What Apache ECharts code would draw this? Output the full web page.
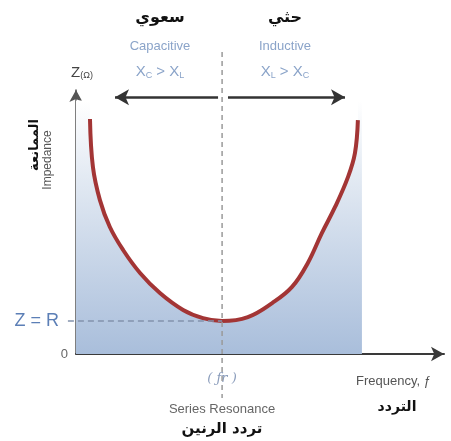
<!DOCTYPE html>
<html>
<head>
<meta charset="utf-8">
<script src="https://cdn.jsdelivr.net/npm/echarts@6/dist/echarts.min.js"></script>
<style>
  html, body { margin: 0; padding: 0; background: #fff; }
  #chart { width: 451px; height: 441px; }
</style>
</head>
<body>
<div id="chart"></div>
<script>
// Impedance of a series RLC circuit versus frequency
const freq = [3.8, 4.6, 6.5, 9.2, 12.8, 17.4, 22.8, 29.1, 34.5, 39.7, 46.7, 53.3, 58.7, 63.0, 66.8, 70.4, 73.9, 75.8, 76.6];
const impedance = [89, 70.8, 58.3, 48.1, 39.4, 30.7, 23.1, 16.7, 13.6, 12.5, 14.0, 19.3, 25.4, 34.5, 45.8, 55.7, 67.0, 76.1, 88.6];

// resonance point and resistance level
const resonanceFreq = 39.7;
const resistance = 12.5;

// shaded region behind the curve
const bandX = [0, 77.7];
const bandTop = 96;

// region arrows (capacitive to the left, inductive to the right)
const arrowLevel = 97.3;
const capacitiveArrow = [38.6, 10.6];
const inductiveArrow = [41.3, 73.1];

// extent of the resonance guide line and start of the Z = R guide
const guideRange = [-16.7, 114.4];
const zrStart = -2.2;

const chart = echarts.init(document.getElementById('chart'));

const AR = '"DejaVu Sans", sans-serif';
const LAT = 'Arial, "Liberation Sans", sans-serif';
const blueText = '#8ba4c9';

chart.setOption({
  animation: false,
  grid: { left: 76, right: 7, top: 90, bottom: 87 },
  xAxis: {
    type: 'value', min: 0, max: 100,
    axisLine: { lineStyle: { color: '#3a3a3a', width: 2 }, symbol: ['none', 'arrow'], symbolSize: [11, 13] },
    axisTick: { show: false }, axisLabel: { show: false }, splitLine: { show: false }
  },
  yAxis: {
    type: 'value', min: 0, max: 100, interval: 12.5,
    axisLine: { show: true, lineStyle: { color: '#555', width: 1.5 }, symbol: ['none', 'arrow'], symbolSize: [10, 12] },
    axisTick: { show: false }, splitLine: { show: false },
    axisLabel: {
      margin: 8,
      formatter: v => v === 0 ? '{z|0}' : (v === resistance ? '{r|Z = R}' : ''),
      rich: {
        z: { color: '#666', fontSize: 13, fontFamily: LAT },
        r: { color: '#5c7fb6', fontSize: 18, fontFamily: LAT, padding: [0, 9, 0, 0] }
      }
    }
  },
  series: [
    {
      type: 'line', z: 1, silent: true, symbol: 'none',
      data: [[bandX[0], bandTop], [bandX[1], bandTop]],
      lineStyle: { width: 0 },
      areaStyle: {
        opacity: 1,
        color: new echarts.graphic.LinearGradient(0, 0, 0, 1, [
          { offset: 0, color: '#ffffff' },
          { offset: 0.3, color: '#e3eaf3' },
          { offset: 1, color: '#a9bedb' }
        ])
      }
    },
    {
      type: 'line', z: 3, smooth: 0.4, symbol: 'none',
      data: freq.map((f, i) => [f, impedance[i]]),
      lineStyle: { color: '#a33535', width: 4 },
      areaStyle: { origin: 'end', color: '#ffffff', opacity: 1 }
    },
    {
      type: 'line', z: 4, clip: false, symbol: 'none', data: [],
      markLine: {
        silent: true, symbol: ['none', 'arrow'], symbolSize: [12, 14],
        label: { show: false },
        lineStyle: { color: '#333', width: 2.5, type: 'solid' },
        data: [
          [{ coord: [capacitiveArrow[0], arrowLevel] }, { coord: [capacitiveArrow[1], arrowLevel] }],
          [{ coord: [inductiveArrow[0], arrowLevel] }, { coord: [inductiveArrow[1], arrowLevel] }]
        ]
      }
    }
  ]
});

// guide lines reach past the plotting area, so place them through the axis scales
const px = (x, y) => chart.convertToPixel({ gridIndex: 0 }, [x, y]);
const vTop = px(resonanceFreq, guideRange[1]);
const vBot = px(resonanceFreq, guideRange[0]);
const hA = px(zrStart, resistance);
const hB = px(resonanceFreq, resistance);

const subRich = (c) => ({
  b: { fontSize: 15, fontFamily: LAT, fill: c },
  s: { fontSize: 9, fontFamily: LAT, fill: c, padding: [8, 0, 0, 0] }
});

chart.setOption({
  graphic: [
    { type: 'line', z: 5, silent: true, shape: { x1: vTop[0], y1: vTop[1], x2: vBot[0], y2: vBot[1] },
      style: { stroke: '#9a9a9a', lineWidth: 1.5, lineDash: [5, 4] } },
    { type: 'line', z: 5, silent: true, shape: { x1: hA[0], y1: hA[1], x2: hB[0], y2: hB[1] },
      style: { stroke: '#8393ad', lineWidth: 1.5, lineDash: [6, 4] } },
    { type: 'text', x: 160, y: 18, style: { text: 'سعوي', font: 'bold 16px ' + AR, fill: '#111', align: 'center', verticalAlign: 'middle' } },
    { type: 'text', x: 285, y: 18, style: { text: 'حثي', font: 'bold 16px ' + AR, fill: '#111', align: 'center', verticalAlign: 'middle' } },
    { type: 'text', x: 160, y: 46, style: { text: 'Capacitive', font: '13px ' + LAT, fill: blueText, align: 'center', verticalAlign: 'middle' } },
    { type: 'text', x: 285, y: 46, style: { text: 'Inductive', font: '13px ' + LAT, fill: blueText, align: 'center', verticalAlign: 'middle' } },
    { type: 'text', x: 160, y: 72, style: { text: '{b|X}{s|C}{b| > X}{s|L}', align: 'center', verticalAlign: 'middle', rich: subRich(blueText) } },
    { type: 'text', x: 285, y: 72, style: { text: '{b|X}{s|L}{b| > X}{s|C}', align: 'center', verticalAlign: 'middle', rich: subRich(blueText) } },
    { type: 'text', x: 82, y: 73, style: {
        text: '{b|Z}{s|(Ω)}', align: 'center', verticalAlign: 'middle',
        rich: { b: { fontSize: 15, fontFamily: LAT, fill: '#444' }, s: { fontSize: 9, fontFamily: LAT, fill: '#444', padding: [6, 0, 0, 0] } }
    } },
    { type: 'text', x: 48, y: 160, rotation: Math.PI / 2, style: { text: 'Impedance', font: '12px ' + LAT, fill: '#555', align: 'center', verticalAlign: 'middle' } },
    { type: 'text', x: 35, y: 145, rotation: Math.PI / 2, style: { text: 'الممانعة', font: 'bold 13px ' + AR, fill: '#111', align: 'center', verticalAlign: 'middle' } },
    { type: 'text', x: 222, y: 379, style: { text: '( ƒr )', font: 'italic 13px "DejaVu Serif", serif', fill: '#8a9cbb', align: 'center', verticalAlign: 'middle' } },
    { type: 'text', x: 222, y: 409, style: { text: 'Series Resonance', font: '13px ' + LAT, fill: '#666', align: 'center', verticalAlign: 'middle' } },
    { type: 'text', x: 222, y: 429, style: { text: 'تردد الرنين', font: 'bold 15px ' + AR, fill: '#111', align: 'center', verticalAlign: 'middle' } },
    { type: 'text', x: 356, y: 381, style: { text: 'Frequency, ƒ', font: '13px ' + LAT, fill: '#555', align: 'left', verticalAlign: 'middle' } },
    { type: 'text', x: 397, y: 407, style: { text: 'التردد', font: 'bold 14px ' + AR, fill: '#111', align: 'center', verticalAlign: 'middle' } }
  ]
});
</script>
</body>
</html>
